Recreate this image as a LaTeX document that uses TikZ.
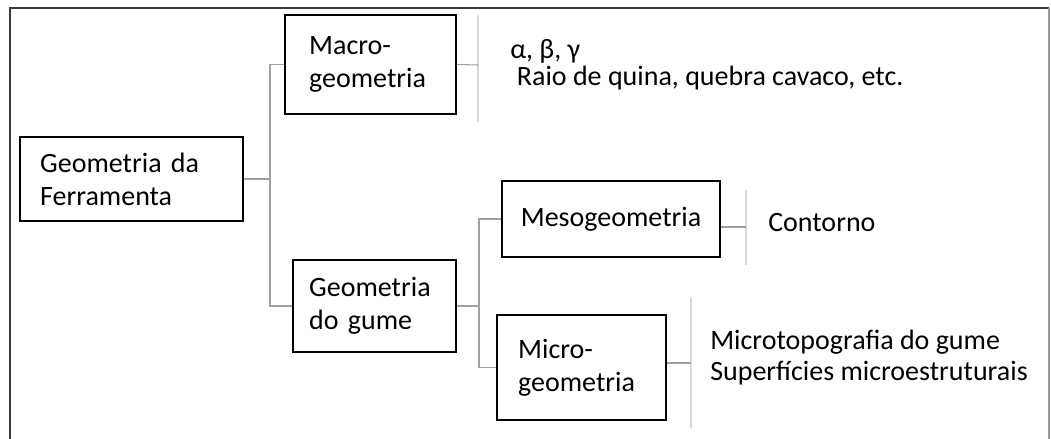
\documentclass[tikz,border=0pt]{standalone}
\usepackage{fontspec}
\setmainfont{Carlito}
\usetikzlibrary{positioning,calc}
\definecolor{linkgray}{HTML}{A0A0A0}
\definecolor{brackgray}{HTML}{D9D9D9}
\definecolor{framegray}{HTML}{3A3A3A}

\begin{document}
\begin{tikzpicture}[
  x=0.75pt, y=-0.75pt,
  font=\fontsize{21}{24.75}\selectfont,
  box/.style={draw=black, line width=1.4pt, align=left, inner sep=0pt},
  link/.style={draw=linkgray, line width=.8pt},
  bracket/.style={draw=brackgray, line width=.8pt},
  leaf/.style={anchor=west, align=left, inner sep=0pt}
]
\useasboundingbox (0,0) rectangle (1051,439);

% Outer frame
\coordinate (fbl) at (10,450);
\coordinate (ftl) at (10,8);
\coordinate (ftr) at (1049,8);
\coordinate (fbr) at (1049,450);
\draw[framegray, line width=1.6pt] (fbl) -- (ftl) -- (ftr);
\draw[black!40, line width=1pt] (ftr) -- (fbr);

% Hierarchy boxes
\node[box, minimum width=167pt, minimum height=63pt, text width=137pt] (ferr) at (131.5,179) {Geometria da\\Ferramenta};
\node[box, minimum width=128pt, minimum height=74pt, text width=92pt] (macro) at (370.5,64.5) {Macro-\\geometria};
\node[box, minimum width=122pt, minimum height=69pt, text width=98pt] (gdg) at (374.5,306) {Geometria\\do gume};
\node[box, minimum width=163.5pt, minimum height=57pt, align=center] (meso) at (611,219) {Mesogeometria};
\node[box, minimum width=127pt, minimum height=79pt, text width=95pt] (micro) at (581.5,367.5) {Micro-\\geometria};

% Text brackets and leaves
\coordinate (b1top) at (478,15);
\coordinate (b1bot) at (478,122);
\coordinate (b1) at (478,65);
\coordinate (b2top) at (746,190);
\coordinate (b2bot) at (746,265);
\coordinate (b2) at (746,227);
\coordinate (b3top) at (691,297);
\coordinate (b3bot) at (691,428);
\coordinate (b3) at (691,363);
\draw[bracket] (b1top) -- (b1bot);
\draw[bracket] (b2top) -- (b2bot);
\draw[bracket] (b3top) -- (b3bot);

\node[leaf, font=\fontsize{21}{20.25}\selectfont] (macroleaf) at (510,65) {α, β, γ\\\hspace*{5pt}Raio de quina, quebra cavaco, etc.};
\node[leaf] (mesoleaf) at (768,223) {Contorno};
\node[leaf, font=\fontsize{21}{23.25}\selectfont] (microleaf) at (710,358) {Microtopografia do gume\\Superfícies microestruturais};

% Connectors
\coordinate (j1) at (270,179);
\coordinate (j2) at (479,299);
\draw[link] (ferr.east) -- (ferr.east -| j1);
\draw[link] (macro.west) -- (macro.west -| j1) |- (gdg.west);
\draw[link] (gdg.east) -- (gdg.east -| j2);
\draw[link] (meso.west) -- (meso.west -| j2) |- (micro.west);
\draw[link] (macro.east) -- (b1);
\draw[link] (meso.east |- b2) -- (b2);
\draw[link] (micro.east |- b3) -- (b3);
\end{tikzpicture}
\end{document}
